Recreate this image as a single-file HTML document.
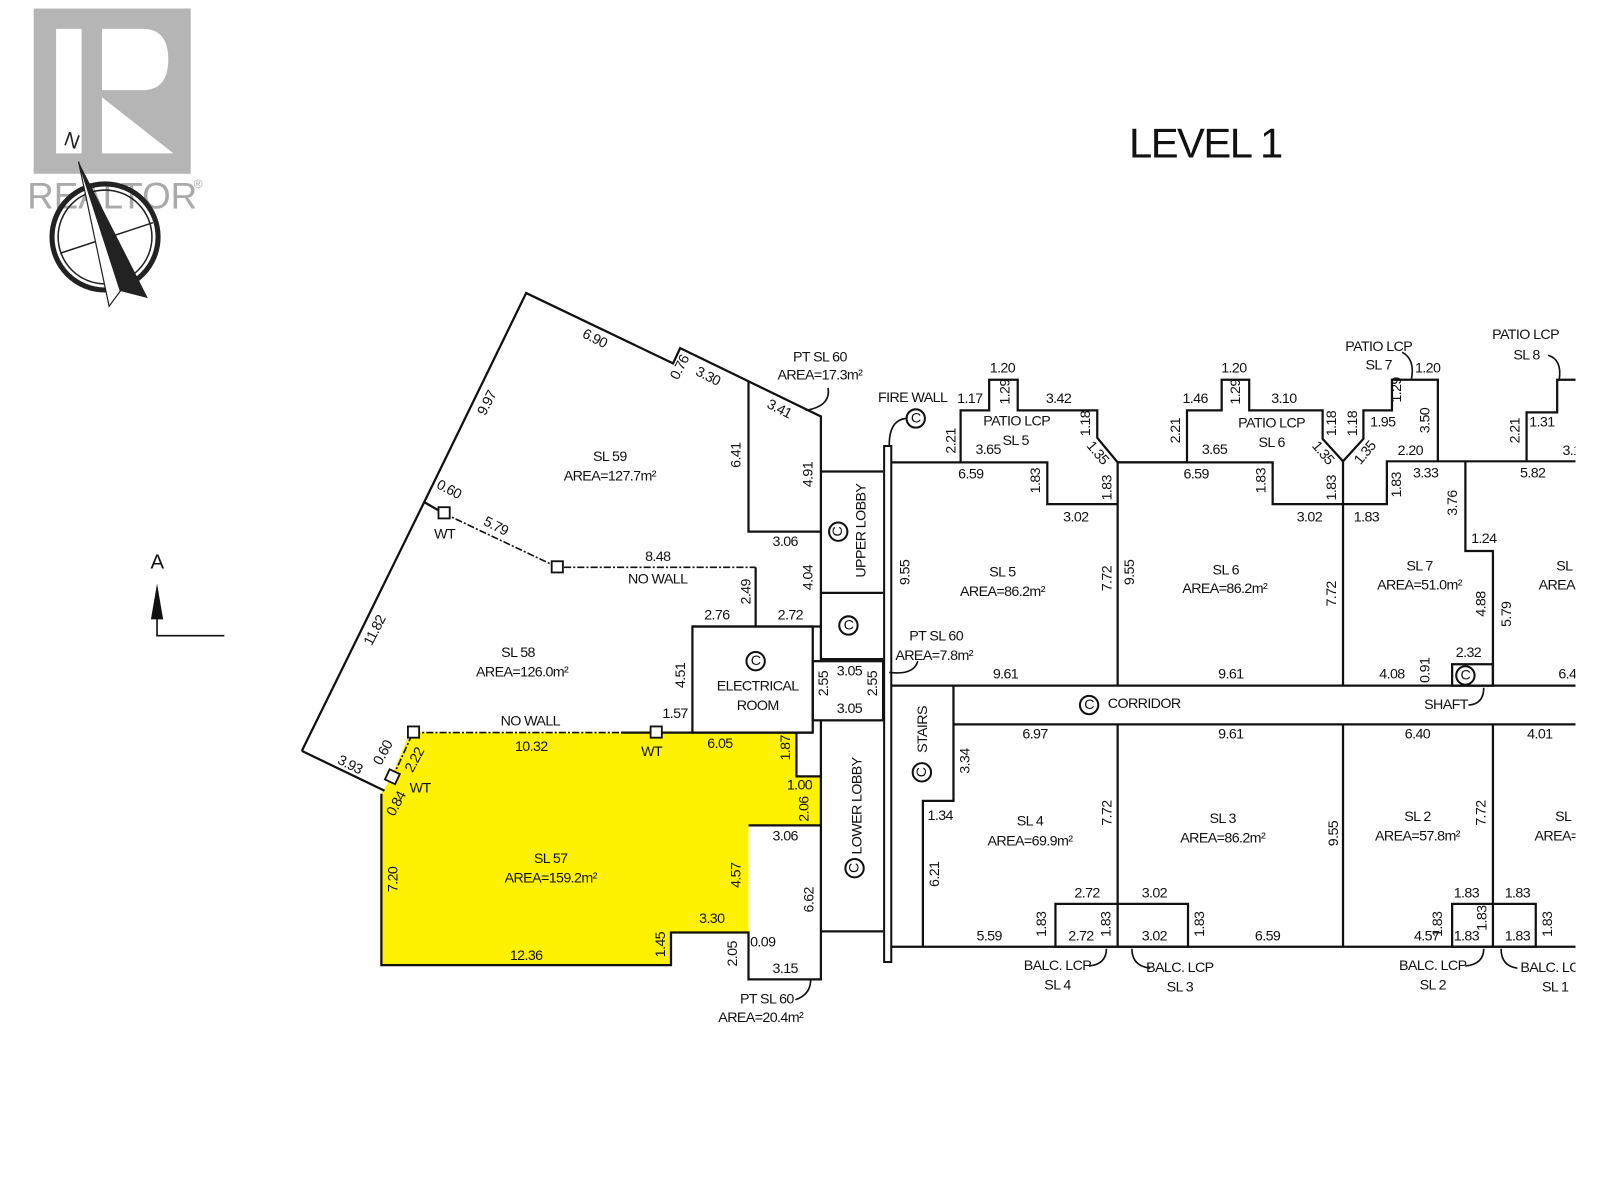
<!DOCTYPE html>
<html><head><meta charset="utf-8"><style>
html,body{margin:0;padding:0;background:#fff;}
svg{display:block}
text{font-family:"Liberation Sans",Arial,sans-serif;font-size:14px;fill:#111;text-anchor:middle;dominant-baseline:central;letter-spacing:-0.6px}
.ln{fill:none;stroke:#111;stroke-width:2.2}
.dd{fill:none;stroke:#111;stroke-width:1.6;stroke-dasharray:7 2 2 2}
.ar{fill:none;stroke:#111;stroke-width:1.6}
</style></head><body>
<svg width="1600" height="1200" viewBox="0 0 1569 1176" xmlns="http://www.w3.org/2000/svg">
<rect width="1569" height="1176" fill="#fff"/>
<!-- logo -->
<rect x="33" y="8" width="154" height="162" fill="#b5b5b5"/>
<path d="M55 28 H80 V150 H55 Z" fill="#fff"/>
<path d="M100 28 H140 Q165 28 165 58 Q165 88 140 88 H100 Z M100 95 L170 150 H100 Z" fill="#fff"/>
<text x="110" y="192" style="font-size:36px;fill:#aaa;letter-spacing:0">REALTOR</text>
<text x="194" y="180" style="font-size:12px;fill:#aaa">®</text>
<circle cx="103" cy="232" r="52" fill="none" stroke="#222" stroke-width="5"/>
<circle cx="103" cy="232" r="46" fill="none" stroke="#222" stroke-width="1.5"/>
<line x1="59" y1="248" x2="150" y2="218" stroke="#222" stroke-width="1.5"/>
<polygon points="77,158 107,300 118,285" fill="#fff" stroke="#222" stroke-width="1.2"/>
<polygon points="77,158 118,285 145,292" fill="#222"/>
<text x="70" y="138" transform="rotate(20 70 138)" style="font-size:20px;fill:#222">N</text>
<!-- title -->
<text x="1182" y="140" style="font-size:41px;letter-spacing:-1.5px">LEVEL 1</text>
<!-- A arrow -->
<text x="154" y="551" style="font-size:20px">A</text>
<polygon points="154,572 148,607 160,607" fill="#111"/>
<polyline class="ar" points="154,600 154,623 220,623"/>
<!-- yellow SL57 -->
<polygon points="374,778 383,763 402,718 781,718 781,761 805,761 805,809 734,809 734,914 658,914 658,946 374,946" fill="#fff200"/>
<!-- left building -->
<polyline class="ln" points="296,736 416,492 516,287 660,356 667,341 805,408 805,648"/>
<polyline class="ln" points="296,736 377,775"/>
<polyline class="ln" points="734,374 734,521 805,521"/>
<polyline class="ln" points="805,462 866,462"/><polyline class="ln" points="805,581 866,581"/>
<polyline class="ln" points="805,646 866,646"/>
<polyline class="ln" points="679,614 805,614"/>
<polyline class="ln" points="741,556 741,614"/>
<rect class="ln" x="679" y="614" width="118" height="104"/>
<rect class="ln" x="797" y="648" width="69" height="58"/>
<polyline class="ln" points="609,718 797,718"/>
<polyline class="ln" points="374,778 374,946 658,946 658,914 734,914 734,960 805,960 805,761 781,761 781,718"/>
<polyline class="ln" points="734,809 805,809"/>
<polyline class="ln" points="805,913 866,913"/>
<line class="ln" x1="805" y1="706" x2="805" y2="761"/>
<polyline class="ln" points="416,492 435,503"/>
<path class="dd" d="M435 503 L547 556 L741 556"/>
<path class="dd" d="M405 718 L643 718"/>
<path class="dd" d="M385 762 L405 718"/>
<rect x="430" y="497" width="11" height="11" fill="#fff" stroke="#111" stroke-width="1.8"/>
<rect x="541" y="550" width="11" height="11" fill="#fff" stroke="#111" stroke-width="1.8"/>
<rect x="400" y="712" width="11" height="11" fill="#fff" stroke="#111" stroke-width="1.8"/>
<rect x="638" y="712" width="11" height="11" fill="#fff" stroke="#111" stroke-width="1.8"/>
<rect x="379" y="756" width="11" height="11" fill="#fff" stroke="#111" stroke-width="1.8" transform="rotate(25 385 762)"/>
<!-- fire wall -->
<rect x="867" y="437" width="7" height="506" fill="#fff" stroke="#111" stroke-width="2"/>
<!-- right building -->
<polyline class="ln" points="874,453 942,453 942,402 970,402 970,372 998,372 998,402 1076,402 1076,429 1096,453 1164,453 1164,402 1198,402 1198,372 1225,372 1225,402 1297,402 1297,430 1317,452 1337,430 1337,402 1365,402 1365,372 1410,372 1410,452"/>
<polyline class="ln" points="942,453 1027,453 1027,494 1096,494"/>
<polyline class="ln" points="1096,453 1248,453 1248,494 1317,494"/>
<polyline class="ln" points="1317,494 1360,494 1360,452 1545,452"/>
<polyline class="ln" points="1437,452 1437,540 1464,540 1464,672"/>
<polyline class="ln" points="1497,452 1497,404 1527,404 1527,372 1545,372"/>
<line class="ln" x1="1096" y1="453" x2="1096" y2="672"/>
<line class="ln" x1="1317" y1="452" x2="1317" y2="672"/>
<line class="ln" x1="874" y1="672" x2="1545" y2="672"/>
<line class="ln" x1="935" y1="710" x2="1545" y2="710"/>
<polyline class="ln" points="935,672 935,785 905,785 905,928"/>
<line class="ln" x1="874" y1="928" x2="1545" y2="928"/>
<line class="ln" x1="1096" y1="710" x2="1096" y2="928"/>
<line class="ln" x1="1317" y1="710" x2="1317" y2="928"/>
<line class="ln" x1="1464" y1="710" x2="1464" y2="928"/>
<rect class="ln" x="1035" y="886" width="130" height="42"/>
<rect class="ln" x="1424" y="886" width="82" height="42"/>
<rect class="ln" x="1424" y="651" width="40" height="21"/>
<!-- C circles -->
<g fill="none" stroke="#111" stroke-width="2">
<circle cx="741" cy="648" r="9"/><circle cx="822" cy="521" r="9"/><circle cx="832" cy="613" r="9"/>
<circle cx="838" cy="851" r="9"/><circle cx="898" cy="410" r="9"/><circle cx="1068" cy="691" r="9"/>
<circle cx="904" cy="757" r="9"/><circle cx="1437" cy="662" r="9"/></g>
<g style="font-size:11px"><text x="741" y="648">C</text><text x="822" y="521" transform="rotate(-90 822 521)">C</text><text x="832" y="613">C</text>
<text x="838" y="851" transform="rotate(-90 838 851)">C</text><text x="898" y="410">C</text><text x="1068" y="691">C</text>
<text x="904" y="757" transform="rotate(-90 904 757)">C</text><text x="1437" y="662">C</text></g>
<!-- leader arrows -->
<g class="ar"><path d="M812 380 Q815 398 790 402"/><path d="M888 410 Q872 412 872 436"/><path d="M900 648 Q896 662 872 659"/>
<path d="M780 980 Q795 975 795 960"/><path d="M1068 947 Q1085 945 1085 930"/><path d="M1128 949 Q1110 947 1110 930"/>
<path d="M1437 947 Q1455 945 1455 930"/><path d="M1488 949 Q1472 947 1472 930"/><path d="M1440 691 Q1455 690 1455 674"/>
<path d="M1375 345 Q1388 352 1384 372"/><path d="M1518 348 Q1532 352 1529 372"/></g>
<!-- labels -->
<g>
<text x="583" y="332" transform="rotate(27 583 332)">6.90</text>
<text x="667" y="360" transform="rotate(-63 667 360)">0.76</text>
<text x="694" y="369" transform="rotate(27 694 369)">3.30</text>
<text x="764" y="401" transform="rotate(27 764 401)">3.41</text>
<text x="804" y="350">PT SL 60</text><text x="804" y="368">AREA=17.3m²</text>
<text x="478" y="395" transform="rotate(-63 478 395)">9.97</text>
<text x="440" y="480" transform="rotate(27 440 480)">0.60</text>
<text x="436" y="524">WT</text>
<text x="486" y="516" transform="rotate(27 486 516)">5.79</text>
<text x="645" y="546">8.48</text><text x="645" y="568">NO WALL</text>
<text x="598" y="448">SL 59</text><text x="598" y="467">AREA=127.7m²</text>
<text x="722" y="446" transform="rotate(-90 722 446)">6.41</text>
<text x="793" y="465" transform="rotate(-90 793 465)">4.91</text>
<text x="770" y="531">3.06</text>
<text x="793" y="566" transform="rotate(-90 793 566)">4.04</text>
<text x="732" y="580" transform="rotate(-90 732 580)">2.49</text>
<text x="703" y="603">2.76</text><text x="775" y="603">2.72</text>
<text x="368" y="618" transform="rotate(-63 368 618)">11.82</text>
<text x="508" y="640">SL 58</text><text x="512" y="659">AREA=126.0m²</text>
<text x="668" y="662" transform="rotate(-90 668 662)">4.51</text>
<text x="662" y="700">1.57</text>
<text x="743" y="673">ELECTRICAL</text><text x="743" y="692">ROOM</text>
<text x="845" y="520" transform="rotate(-90 845 520)">UPPER LOBBY</text>
<text x="808" y="670" transform="rotate(-90 808 670)">2.55</text>
<text x="833" y="658">3.05</text><text x="833" y="695">3.05</text>
<text x="856" y="670" transform="rotate(-90 856 670)">2.55</text>
<text x="520" y="707">NO WALL</text>
<text x="521" y="732">10.32</text><text x="639" y="737">WT</text><text x="706" y="729">6.05</text>
<text x="771" y="733" transform="rotate(-90 771 733)">1.87</text>
<text x="784" y="770">1.00</text>
<text x="789" y="793" transform="rotate(-90 789 793)">2.06</text>
<text x="770" y="820">3.06</text>
<text x="841" y="790" transform="rotate(-90 841 790)">LOWER LOBBY</text>
<text x="343" y="750" transform="rotate(27 343 750)">3.93</text>
<text x="376" y="738" transform="rotate(-62 376 738)">0.60</text>
<text x="407" y="745" transform="rotate(-62 407 745)">2.22</text>
<text x="412" y="773">WT</text>
<text x="389" y="788" transform="rotate(-62 389 788)">0.84</text>
<text x="386" y="862" transform="rotate(-90 386 862)">7.20</text>
<text x="540" y="842">SL 57</text><text x="540" y="861">AREA=159.2m²</text>
<text x="722" y="858" transform="rotate(-90 722 858)">4.57</text>
<text x="794" y="882" transform="rotate(-90 794 882)">6.62</text>
<text x="698" y="901">3.30</text>
<text x="648" y="926" transform="rotate(-90 648 926)">1.45</text>
<text x="516" y="937">12.36</text>
<text x="719" y="935" transform="rotate(-90 719 935)">2.05</text>
<text x="748" y="924">0.09</text><text x="770" y="950">3.15</text>
<text x="752" y="980">PT SL 60</text><text x="746" y="998">AREA=20.4m²</text>
<text x="895" y="390">FIRE WALL</text>
<text x="888" y="561" transform="rotate(-90 888 561)">9.55</text>
<text x="918" y="624">PT SL 60</text><text x="916" y="643">AREA=7.8m²</text>
<!-- SL5 -->
<text x="983" y="361">1.20</text><text x="951" y="391">1.17</text>
<text x="986" y="384" transform="rotate(-90 986 384)">1.29</text>
<text x="1038" y="391">3.42</text>
<text x="933" y="432" transform="rotate(-90 933 432)">2.21</text>
<text x="997" y="413">PATIO LCP</text><text x="996" y="432">SL 5</text>
<text x="969" y="441">3.65</text>
<text x="1065" y="415" transform="rotate(-90 1065 415)">1.18</text>
<text x="1076" y="444" transform="rotate(50 1076 444)">1.35</text>
<text x="952" y="465">6.59</text>
<text x="1016" y="471" transform="rotate(-90 1016 471)">1.83</text>
<text x="1086" y="478" transform="rotate(-90 1086 478)">1.83</text>
<text x="1055" y="507">3.02</text>
<text x="983" y="561">SL 5</text><text x="983" y="580">AREA=86.2m²</text>
<text x="1086" y="567" transform="rotate(-90 1086 567)">7.72</text>
<text x="1108" y="561" transform="rotate(-90 1108 561)">9.55</text>
<text x="986" y="661">9.61</text>
<!-- SL6 -->
<text x="1210" y="361">1.20</text><text x="1172" y="391">1.46</text>
<text x="1212" y="384" transform="rotate(-90 1212 384)">1.29</text>
<text x="1259" y="391">3.10</text>
<text x="1153" y="422" transform="rotate(-90 1153 422)">2.21</text>
<text x="1247" y="415">PATIO LCP</text><text x="1247" y="434">SL 6</text>
<text x="1191" y="441">3.65</text>
<text x="1306" y="415" transform="rotate(-90 1306 415)">1.18</text>
<text x="1327" y="415" transform="rotate(-90 1327 415)">1.18</text>
<text x="1297" y="444" transform="rotate(50 1297 444)">1.35</text>
<text x="1339" y="444" transform="rotate(-50 1339 444)">1.35</text>
<text x="1173" y="465">6.59</text>
<text x="1237" y="471" transform="rotate(-90 1237 471)">1.83</text>
<text x="1306" y="478" transform="rotate(-90 1306 478)">1.83</text>
<text x="1284" y="507">3.02</text>
<text x="1202" y="559">SL 6</text><text x="1201" y="577">AREA=86.2m²</text>
<text x="1306" y="582" transform="rotate(-90 1306 582)">7.72</text>
<text x="1207" y="661">9.61</text>
<!-- SL7 -->
<text x="1352" y="340">PATIO LCP</text><text x="1352" y="358">SL 7</text>
<text x="1400" y="361">1.20</text>
<text x="1370" y="382" transform="rotate(-90 1370 382)">1.29</text>
<text x="1356" y="414">1.95</text>
<text x="1398" y="412" transform="rotate(-90 1398 412)">3.50</text>
<text x="1383" y="442">2.20</text><text x="1398" y="464">3.33</text>
<text x="1370" y="475" transform="rotate(-90 1370 475)">1.83</text>
<text x="1340" y="507">1.83</text>
<text x="1425" y="493" transform="rotate(-90 1425 493)">3.76</text>
<text x="1455" y="528">1.24</text>
<text x="1392" y="555">SL 7</text><text x="1392" y="574">AREA=51.0m²</text>
<text x="1453" y="592" transform="rotate(-90 1453 592)">4.88</text>
<text x="1478" y="602" transform="rotate(-90 1478 602)">5.79</text>
<text x="1440" y="640">2.32</text><text x="1365" y="661">4.08</text>
<text x="1398" y="657" transform="rotate(-90 1398 657)">0.91</text>
<text x="1418" y="691">SHAFT</text>
<!-- SL8 -->
<text x="1496" y="328">PATIO LCP</text><text x="1497" y="348">SL 8</text>
<text x="1486" y="422" transform="rotate(-90 1486 422)">2.21</text>
<text x="1512" y="414">1.31</text><text x="1541" y="442">3.1</text>
<text x="1503" y="464">5.82</text>
<text x="1534" y="555">SL</text><text x="1534" y="574">AREA=6</text>
<text x="1537" y="661">6.4</text>
<!-- corridor/lower -->
<text x="1122" y="690">CORRIDOR</text>
<text x="905" y="715" transform="rotate(-90 905 715)">STAIRS</text>
<text x="947" y="746" transform="rotate(-90 947 746)">3.34</text>
<text x="1015" y="720">6.97</text><text x="1207" y="720">9.61</text><text x="1390" y="720">6.40</text><text x="1510" y="720">4.01</text>
<text x="922" y="800">1.34</text>
<text x="917" y="857" transform="rotate(-90 917 857)">6.21</text>
<text x="1010" y="805">SL 4</text><text x="1010" y="825">AREA=69.9m²</text>
<text x="1086" y="797" transform="rotate(-90 1086 797)">7.72</text>
<text x="1199" y="803">SL 3</text><text x="1199" y="822">AREA=86.2m²</text>
<text x="1308" y="817" transform="rotate(-90 1308 817)">9.55</text>
<text x="1390" y="801">SL 2</text><text x="1390" y="820">AREA=57.8m²</text>
<text x="1453" y="797" transform="rotate(-90 1453 797)">7.72</text>
<text x="1533" y="801">SL</text><text x="1530" y="820">AREA=5</text>
<text x="1066" y="876">2.72</text><text x="1132" y="876">3.02</text>
<text x="1022" y="906" transform="rotate(-90 1022 906)">1.83</text>
<text x="1060" y="918">2.72</text>
<text x="1085" y="906" transform="rotate(-90 1085 906)">1.83</text>
<text x="1132" y="918">3.02</text>
<text x="1177" y="906" transform="rotate(-90 1177 906)">1.83</text>
<text x="970" y="918">5.59</text><text x="1243" y="918">6.59</text><text x="1399" y="918">4.57</text>
<text x="1410" y="906" transform="rotate(-90 1410 906)">1.83</text>
<text x="1438" y="918">1.83</text>
<text x="1454" y="900" transform="rotate(-90 1454 900)">1.83</text>
<text x="1488" y="918">1.83</text>
<text x="1438" y="876">1.83</text><text x="1488" y="876">1.83</text>
<text x="1518" y="906" transform="rotate(-90 1518 906)">1.83</text>
<text x="1037" y="947">BALC. LCP</text><text x="1037" y="966">SL 4</text>
<text x="1157" y="949">BALC. LCP</text><text x="1157" y="968">SL 3</text>
<text x="1405" y="947">BALC. LCP</text><text x="1405" y="966">SL 2</text>
<text x="1524" y="949">BALC. LCP</text><text x="1525" y="968">SL 1</text>
</g>
<rect x="1545" y="0" width="30" height="1176" fill="#fff"/>
</svg>
</body></html>
